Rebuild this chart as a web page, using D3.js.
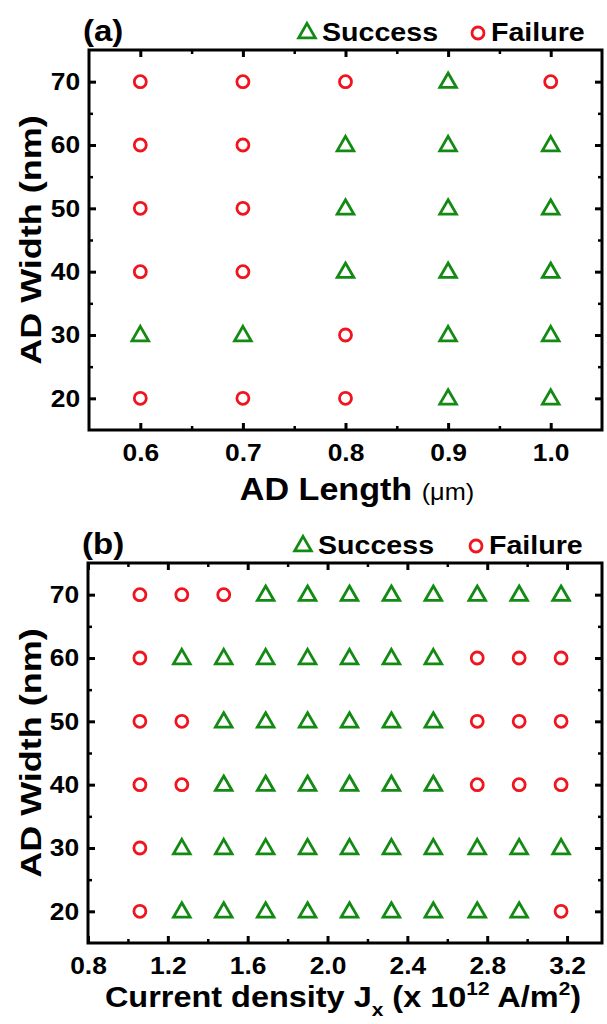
<!DOCTYPE html>
<html lang="en">
<meta charset="utf-8">
<style>
    html, body {
        margin: 0;
        padding: 0;
        background: #fff;
    }
    svg { display: block; }
    text {
        font-family: "Liberation Sans", Arial, sans-serif;
        font-weight: bold;
        fill: #000;
    }
</style>
<body>
<svg id="svg" width="607" height="1024"></svg>
<script src="https://cdn.jsdelivr.net/npm/d3@7"></script>
<script>
    // panel (a): AD length vs AD width
    var lengthVals = [0.6, 0.7, 0.8, 0.9, 1.0];
    var lengthTicks = [0.6, 0.7, 0.8, 0.9, 1.0];
    var lengthMinor = [0.65, 0.75, 0.85, 0.95];
    // one string per width row (70 -> 20), S = success, F = failure
    var outcomeA = ["FFFSF", "FFSSS", "FFSSS", "FFSSS", "SSFSS", "FFFSS"];

    // panel (b): current density vs AD width
    var currentVals = [1.06, 1.27, 1.48, 1.69, 1.90, 2.11, 2.32, 2.53, 2.75, 2.96, 3.17];
    var currentTicks = [0.8, 1.2, 1.6, 2.0, 2.4, 2.8, 3.2];
    var currentMinor = [1.0, 1.4, 1.8, 2.2, 2.6, 3.0];
    var outcomeB = ["FFFSSSSSSSS", "FSSSSSSSFFF", "FFSSSSSSFFF", "FFSSSSSSFFF", "FSSSSSSSSSS", "FSSSSSSSSSF"];

    var widthVals = [70, 60, 50, 40, 30, 20];
    var widthTicks = [20, 30, 40, 50, 60, 70];
    var widthMinor = [25, 35, 45, 55, 65];

    var green = "#138a13", red = "#f0141e";
    var stretch = "scale(1.1,1)";   // the source font is a bit wide

    var svg = d3.select("svg");

    function tidy(g, minor) {
        g.select(".domain").remove();
        g.selectAll(".tick line").attr("stroke", "#000").attr("stroke-width", minor ? 2.5 : 3);
        g.selectAll(".tick text")
            .attr("font-size", 24)
            .attr("font-family", "Liberation Sans, Arial, sans-serif")
            .attr("font-weight", "bold")
            .attr("transform", stretch);
    }

    function marker(sel, ok) {
        if (ok) {
            sel.append("path")
                .attr("d", d3.symbol(d3.symbolTriangle, 120)())
                .attr("transform", "translate(0,1)")
                .attr("fill", "none").attr("stroke", green).attr("stroke-width", 2.8)
                .attr("stroke-linejoin", "miter");
        } else {
            sel.append("circle").attr("r", 6)
                .attr("fill", "none").attr("stroke", red).attr("stroke-width", 2.8);
        }
    }

    function panel(p) {
        var x = d3.scaleLinear().domain(p.xDomain).range([p.x0, p.x1]);
        var y = d3.scaleLinear().domain([15, 75]).range([p.y1, p.y0]);
        var g = svg.append("g");

        // major + minor ticks on all four sides, pointing inward
        g.append("g").attr("transform", "translate(0," + p.y1 + ")")
            .call(d3.axisBottom(x).tickValues(p.xTicks).tickSize(-7).tickPadding(14).tickFormat(d3.format(".1f")))
            .call(tidy);
        g.append("g").attr("transform", "translate(0," + p.y1 + ")")
            .call(d3.axisBottom(x).tickValues(p.xMinor).tickSize(-4).tickFormat(""))
            .call(tidy, true);
        g.append("g").attr("transform", "translate(0," + p.y0 + ")")
            .call(d3.axisTop(x).tickValues(p.xTicks).tickSize(-7).tickFormat(""))
            .call(tidy);
        g.append("g").attr("transform", "translate(0," + p.y0 + ")")
            .call(d3.axisTop(x).tickValues(p.xMinor).tickSize(-4).tickFormat(""))
            .call(tidy, true);
        g.append("g").attr("transform", "translate(" + p.x0 + ",0)")
            .call(d3.axisLeft(y).tickValues(widthTicks).tickSize(-7).tickPadding(8))
            .call(tidy);
        g.append("g").attr("transform", "translate(" + p.x0 + ",0)")
            .call(d3.axisLeft(y).tickValues(widthMinor).tickSize(-4).tickFormat(""))
            .call(tidy, true);
        g.append("g").attr("transform", "translate(" + p.x1 + ",0)")
            .call(d3.axisRight(y).tickValues(widthTicks).tickSize(-7).tickFormat(""))
            .call(tidy);
        g.append("g").attr("transform", "translate(" + p.x1 + ",0)")
            .call(d3.axisRight(y).tickValues(widthMinor).tickSize(-4).tickFormat(""))
            .call(tidy, true);

        g.append("rect")
            .attr("x", p.x0).attr("y", p.y0)
            .attr("width", p.x1 - p.x0).attr("height", p.y1 - p.y0)
            .attr("fill", "none").attr("stroke", "#000").attr("stroke-width", 3);

        // points
        var pts = [];
        widthVals.forEach(function(w, i) {
            p.xVals.forEach(function(v, j) {
                pts.push({x: v, w: w, ok: p.outcome[i][j] === "S"});
            });
        });
        g.append("g").selectAll("g").data(pts).enter().append("g")
            .attr("transform", d => "translate(" + x(d.x) + "," + y(d.w) + ")")
            .each(function(d) { marker(d3.select(this), d.ok); });

        // panel letter
        g.append("text")
            .attr("transform", "translate(" + (p.x0 - 6) + "," + (p.y0 - 9) + ") " + stretch)
            .attr("font-size", 30)
            .text(p.label);

        // legend
        var lg = g.append("g").attr("transform", "translate(0," + (p.y0 - 18) + ")");
        marker(lg.append("g").attr("transform", "translate(" + p.legX[0] + ",0)"), true);
        lg.append("text").attr("transform", "translate(" + (p.legX[0] + 15) + ",9) " + stretch)
            .attr("font-size", 26).text("Success");
        marker(lg.append("g").attr("transform", "translate(" + p.legX[1] + ",1)"), false);
        lg.append("text").attr("transform", "translate(" + (p.legX[1] + 13) + ",9) " + stretch)
            .attr("font-size", 26).text("Failure");

        // y title
        g.append("text")
            .attr("transform", "translate(41," + ((p.y0 + p.y1) / 2) + ") rotate(-90) scale(1.2,1)")
            .attr("text-anchor", "middle").attr("font-size", 30)
            .text("AD Width (nm)");

        return {x: x, y: y, g: g};
    }

    var a = panel({
        x0: 89, x1: 602, y0: 50, y1: 430,
        xDomain: [0.55, 1.05], xTicks: lengthTicks, xMinor: lengthMinor,
        xVals: lengthVals, outcome: outcomeA, label: "(a)", legX: [307, 478]
    });
    var at = a.g.append("text")
        .attr("transform", "translate(357,500) " + stretch)
        .attr("text-anchor", "middle").attr("font-size", 31);
    at.append("tspan").text("AD Length ");
    at.append("tspan").attr("font-size", 23).attr("font-weight", "normal").text("(\u03bcm)");

    var b = panel({
        x0: 88, x1: 602, y0: 563, y1: 943,
        xDomain: [0.8, 3.375], xTicks: currentTicks, xMinor: currentMinor,
        xVals: currentVals, outcome: outcomeB, label: "(b)", legX: [303, 476]
    });
    var bt = b.g.append("text")
        .attr("transform", "translate(343,1007) " + stretch)
        .attr("text-anchor", "middle").attr("font-size", 29.5);
    bt.append("tspan").text("Current density J");
    bt.append("tspan").attr("font-size", 19).attr("dy", 9).text("x");
    bt.append("tspan").attr("dy", -9).text(" (x 10");
    bt.append("tspan").attr("font-size", 19).attr("dy", -12).text("12");
    bt.append("tspan").attr("dy", 12).text(" A/m");
    bt.append("tspan").attr("font-size", 19).attr("dy", -12).text("2");
    bt.append("tspan").attr("dy", 12).text(")");
</script>
</body>
</html>
